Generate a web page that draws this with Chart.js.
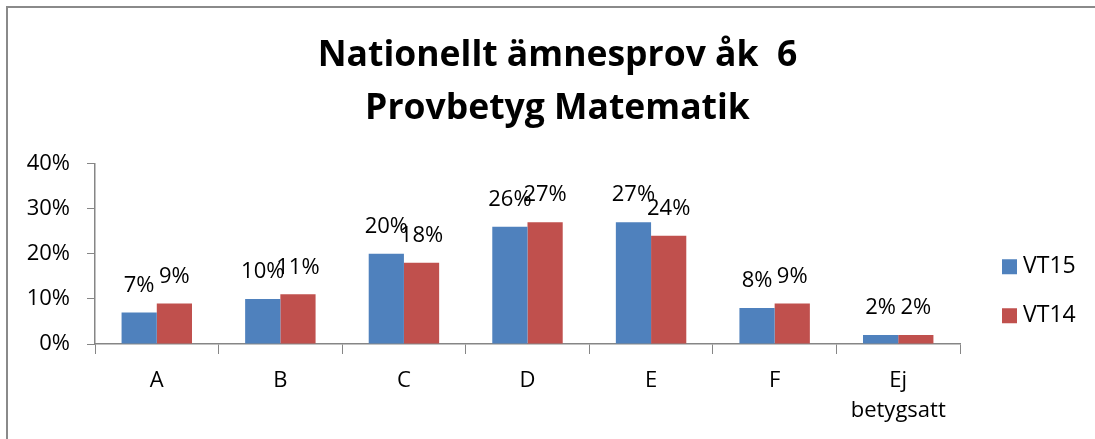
<!DOCTYPE html>
<html>
<head>
<meta charset="utf-8">
<script src="https://cdn.jsdelivr.net/npm/chart.js@4/dist/chart.umd.min.js"></script>
<style>
    html, body { margin: 0; padding: 0; background: #fff; overflow: hidden; }
    #wrap { position: relative; width: 1095px; height: 439px; }
    #frame {
        position: absolute; left: 6px; top: 6px; width: 1200px; height: 600px;
        border-left: 2px solid #8a8a8a; border-top: 2px solid #8a8a8a;
        pointer-events: none;
    }
</style>
</head>
<body>
<div id="wrap">
    <canvas id="chart" width="1095" height="439"></canvas>
    <div id="frame"></div>
</div>
<script>
// =======================================
// Nationellt ämnesprov åk 6 - Provbetyg Matematik
// =======================================

const titleLines = ['Nationellt ämnesprov åk  6', 'Provbetyg Matematik'];
const categories = ['A', 'B', 'C', 'D', 'E', 'F', ['Ej', 'betygsatt']];
const seriesNames = ['VT15', 'VT14'];
const vt15 = [7, 10, 20, 26, 27, 8, 2];
const vt14 = [9, 11, 18, 27, 24, 9, 2];
const yTicks = [0, 10, 20, 30, 40];

const colors = ['#4F81BD', '#C0504D'];
const axisColor = '#868686';
const fontFamily = "'Open Sans', sans-serif";

// Value labels above each bar
const valueLabels = {
    id: 'valueLabels',
    afterDatasetsDraw(chart) {
        const ctx = chart.ctx;
        ctx.save();
        ctx.font = `22px ${fontFamily}`;
        ctx.fillStyle = '#000';
        ctx.textAlign = 'center';
        ctx.textBaseline = 'middle';
        chart.data.datasets.forEach((ds, i) => {
            chart.getDatasetMeta(i).data.forEach((bar, j) => {
                ctx.fillText(ds.data[j] + '%', bar.x, bar.y - 27);
            });
        });
        ctx.restore();
    }
};

// Simple legend to the right of the plot area
const sideLegend = {
    id: 'sideLegend',
    afterDraw(chart) {
        const ctx = chart.ctx;
        const area = chart.chartArea;
        const x = area.right + 42;
        const midY = (area.top + area.bottom) / 2;
        ctx.save();
        ctx.font = `23px ${fontFamily}`;
        ctx.textBaseline = 'middle';
        ctx.textAlign = 'left';
        chart.data.datasets.forEach((ds, i) => {
            const y = midY + 13 + i * 49;
            ctx.fillStyle = ds.backgroundColor;
            ctx.fillRect(x, y - 7.5, 15, 15);
            ctx.fillStyle = '#000';
            ctx.fillText(ds.label, x + 21, y);
        });
        ctx.restore();
    }
};

new Chart(document.getElementById('chart'), {
    type: 'bar',
    data: {
        labels: categories,
        datasets: [
            { label: seriesNames[0], data: vt15, backgroundColor: colors[0] },
            { label: seriesNames[1], data: vt14, backgroundColor: colors[1] }
        ]
    },
    options: {
        responsive: false,
        animation: false,
        layout: { padding: { top: 0, right: 0, bottom: 0, left: 20 } },
        datasets: {
            bar: { categoryPercentage: 0.57, barPercentage: 1.0, borderWidth: 0 }
        },
        plugins: {
            legend: { display: false },
            tooltip: { enabled: false },
            title: {
                display: true,
                text: titleLines,
                color: '#000',
                font: { family: fontFamily, size: 35.5, weight: 'bold', lineHeight: 1.5 },
                padding: { top: 29, bottom: 28 }
            }
        },
        scales: {
            x: {
                afterFit: scale => { scale.height = 95; },
                grid: {
                    offset: true,
                    drawOnChartArea: false,
                    color: axisColor,
                    tickLength: 10
                },
                border: { color: axisColor, width: 1.5 },
                ticks: {
                    color: '#000',
                    padding: 12,
                    maxRotation: 0,
                    autoSkip: false,
                    font: { family: fontFamily, size: 22, lineHeight: 1.36 }
                }
            },
            y: {
                min: 0,
                max: 40,
                afterFit: scale => { scale.width = 75; },
                afterBuildTicks: scale => {
                    scale.ticks = yTicks.map(v => ({ value: v }));
                },
                grid: {
                    drawOnChartArea: false,
                    color: axisColor,
                    tickLength: 8
                },
                border: { color: axisColor, width: 1.5 },
                ticks: {
                    color: '#000',
                    padding: 17,
                    font: { family: fontFamily, size: 22 },
                    callback: v => v + '%'
                }
            },
            // empty right-hand axis that only reserves room for the legend,
            // so the title stays centred on the whole canvas
            legendSpace: {
                type: 'linear',
                position: 'right',
                afterFit: scale => { scale.width = 135; },
                grid: { display: false },
                border: { display: false },
                ticks: { display: false }
            }
        }
    },
    plugins: [valueLabels, sideLegend]
});
</script>
</body>
</html>
